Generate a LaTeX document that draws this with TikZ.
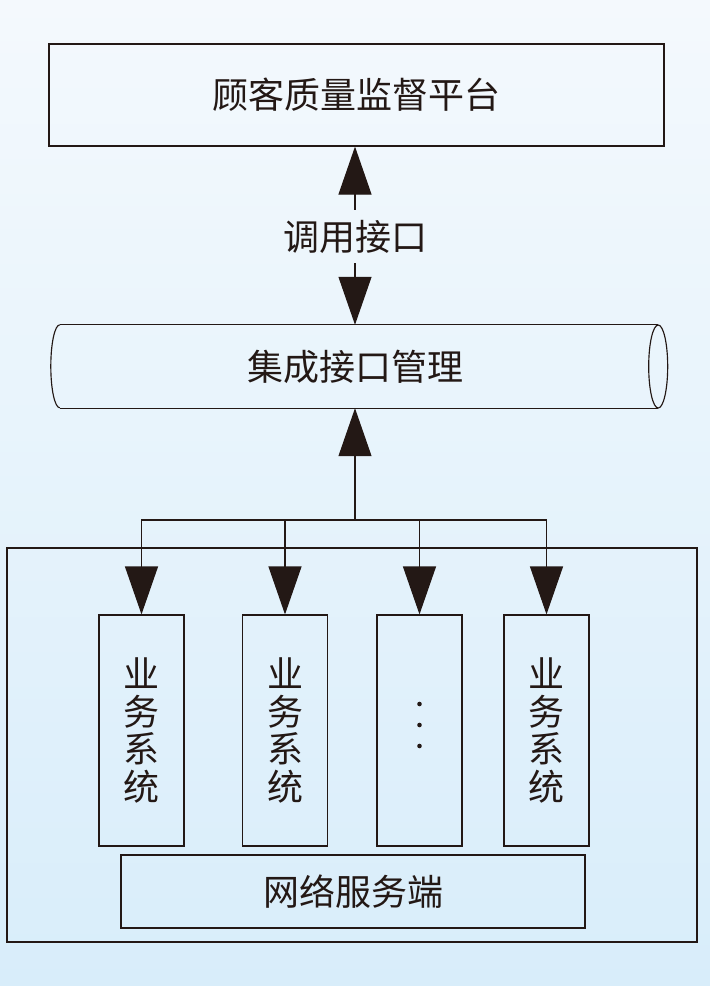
\documentclass[tikz,border=0pt]{standalone}
\usepackage{fontspec}
\setmainfont{Noto Sans CJK SC}
\usetikzlibrary{arrows.meta}
\definecolor{ink}{RGB}{35,24,21}
\definecolor{bgtop}{RGB}{244,249,253}
\definecolor{bgbot}{RGB}{216,237,250}
\tikzset{
  box/.style={draw=ink, line width=1.15pt, inner sep=0pt, text=ink},
  big/.style={font=\fontsize{36}{37.5}\selectfont},
  arr/.style={draw=ink, line width=1.15pt, -{Triangle[length=48pt,width=33pt]}},
  sys/.style={box, big, minimum width=85pt, minimum height=231pt, align=center}
}
\begin{document}
\begin{tikzpicture}[x=1pt,y=-1pt]
\shade[top color=bgtop, bottom color=bgbot] (0,0) rectangle (710,986);
\useasboundingbox (0,0) rectangle (710,986);

\node[box, big, minimum width=615pt, minimum height=102pt] (top) at (356.5,95) {顾客质量监督平台};

\node[big, text=ink, inner sep=0pt, minimum height=53pt] (lab) at (355,236.5) {调用接口};

\node[big, text=ink, inner sep=0pt, minimum width=598pt, minimum height=83pt] (cyl) at (359,366.5) {\hspace*{-8pt}集成接口管理};
\draw[ink, line width=1.15pt] (cyl.north west) -- (cyl.north east)
      (cyl.south west) -- (cyl.south east);
\draw[ink, line width=1.15pt] (cyl.north west) arc[start angle=90, end angle=270, x radius=9pt, y radius=41.5pt];
\draw[ink, line width=1.15pt] (cyl.east) ellipse[x radius=9.5pt, y radius=41.5pt];

\node[box, line width=1.4pt, minimum width=690pt, minimum height=394pt] (outer) at (352,745) {};

\node[sys] (s1) at (141.5,730.5) {业\\务\\系\\统};
\node[sys] (s2) at (285,730.5) {业\\务\\系\\统};
\node[box, minimum width=85pt, minimum height=231pt] (s3) at (419.5,730.5) {};
\node[sys] (s4) at (546.5,730.5) {业\\务\\系\\统};
\fill[ink] (419.5,704) circle[radius=2.3pt] (419.5,725) circle[radius=2.3pt] (419.5,746) circle[radius=2.3pt];

\node[box, big, minimum width=464pt, minimum height=73pt] (net) at (353,891.5) {网络服务端};

\draw[arr] (lab.north) -- (top.south -| lab.north);
\draw[arr] (lab.south) -- (cyl.north -| lab.south);

\coordinate (hub) at (355,520);
\draw[arr] (hub) -- (cyl.south -| hub);
\draw[arr] (hub) -| (s1.north);
\draw[arr] (hub) -| (s2.north);
\draw[arr] (hub) -| (s3.north);
\draw[arr] (hub) -| (s4.north);
\end{tikzpicture}
\end{document}
